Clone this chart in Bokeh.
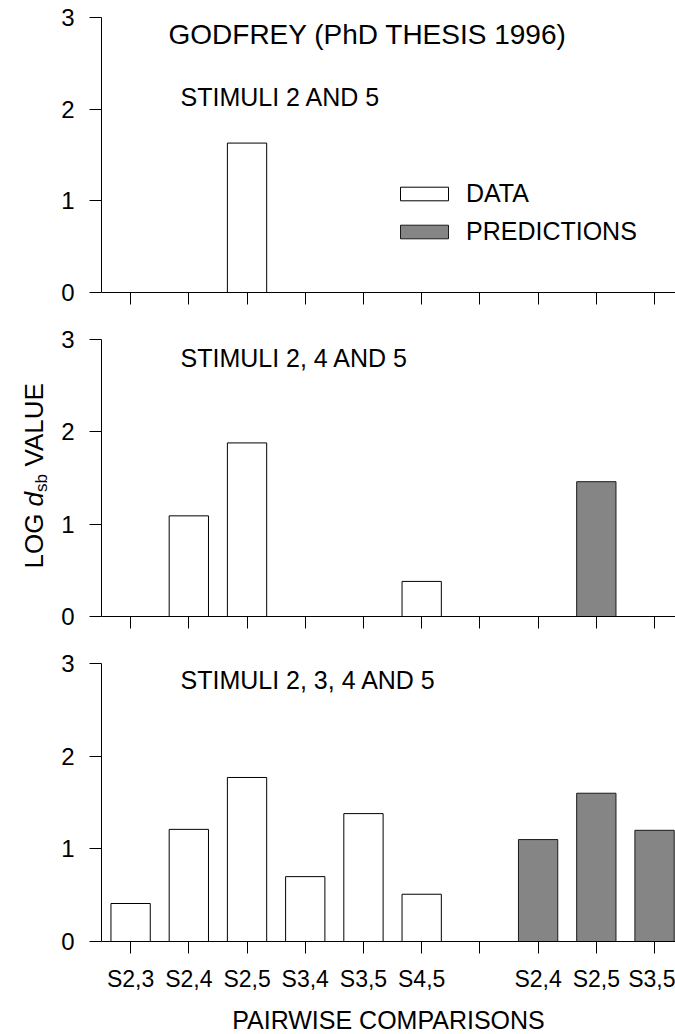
import math
from bokeh.plotting import figure
from bokeh.layouts import column, row
from bokeh.models import Range1d, FixedTicker, Label, Legend, LegendItem, ColumnDataSource
from bokeh.embed import file_html
from bokeh.resources import INLINE

nan = float("nan")

# ---- data -------------------------------------------------------------
slot_labels = ["S2,3", "S2,4", "S2,5", "S3,4", "S3,5", "S4,5", "", "S2,4", "S2,5", "S3,5"]
data_pairs = ["S2,3", "S2,4", "S2,5", "S3,4", "S3,5", "S4,5"]
pred_pairs = ["S2,4", "S2,5", "S3,5"]
data_slot = [0, 1, 2, 3, 4, 5]
pred_slot = [7, 8, 9]

panel_names = ["STIMULI 2 AND 5", "STIMULI 2, 4 AND 5", "STIMULI 2, 3, 4 AND 5"]

data_p1 = [nan, nan, 1.63, nan, nan, nan]
pred_p1 = [nan, nan, nan]
data_p2 = [nan, 1.09, 1.88, nan, nan, 0.38]
pred_p2 = [nan, 1.46, nan]
data_p3 = [0.41, 1.21, 1.77, 0.70, 1.38, 0.51]
pred_p3 = [1.10, 1.60, 1.20]

y_ticks = [0, 1, 2, 3]

# ---- layout constants ---------------------------------------------------
FONT = "Liberation Sans"
STRIP_W = 56            # narrow strip holding the y-axis title
LEFT = 101              # x of the y axis spine on the page
FRAME_W = 574
X0, X1 = -0.5, 9.36
PX = FRAME_W / (X1 - X0)
PRED_FILL = "#858585"
PAGE_H = 1034


def xd(px):
    return X0 + (px - LEFT) / PX


def make_panel(dvals, pvals, frame_h, top_b, bot_b, show_labels):
    p = figure(frame_width=FRAME_W, frame_height=frame_h,
               x_range=Range1d(X0, X1), y_range=Range1d(0, 3),
               min_border_left=LEFT - STRIP_W, min_border_right=0,
               min_border_top=top_b, min_border_bottom=bot_b,
               output_backend="svg", toolbar_location=None,
               background_fill_color="white", border_fill_color="white")
    p.outline_line_color = None
    p.xgrid.visible = False
    p.ygrid.visible = False

    dsrc = ColumnDataSource(dict(x=data_slot, top=dvals, name=data_pairs))
    psrc = ColumnDataSource(dict(x=pred_slot, top=pvals, name=pred_pairs))
    rd = p.vbar(x="x", top="top", bottom=0, width=0.675, source=dsrc,
                fill_color="white", line_color="black", line_width=1)
    rp = p.vbar(x="x", top="top", bottom=0, width=0.675, source=psrc,
                fill_color=PRED_FILL, line_color="#1a1a1a", line_width=1)

    ya = p.yaxis[0]
    ya.ticker = FixedTicker(ticks=y_ticks)
    ya.major_tick_in = 0
    ya.major_tick_out = 12
    ya.minor_tick_out = 0
    ya.minor_tick_in = 0
    ya.axis_line_color = "black"
    ya.major_tick_line_color = "black"
    ya.major_label_text_font = FONT
    ya.major_label_text_font_size = "24px"
    ya.major_label_text_color = "black"
    ya.major_label_standoff = 15

    xa = p.xaxis[0]
    xa.ticker = FixedTicker(ticks=list(range(len(slot_labels))))
    xa.major_tick_in = 0
    xa.major_tick_out = 12
    xa.minor_tick_out = 0
    xa.minor_tick_in = 0
    xa.axis_line_color = "black"
    xa.major_tick_line_color = "black"
    xa.major_label_text_font = FONT
    xa.major_label_text_font_size = "23px"
    xa.major_label_text_color = "black"
    if show_labels:
        xa.major_label_overrides = {i: s for i, s in enumerate(slot_labels)}
        xa.major_label_standoff = 12
        xa.axis_label = "PAIRWISE COMPARISONS"
        xa.axis_label_text_font = FONT
        xa.axis_label_text_font_size = "25px"
        xa.axis_label_text_font_style = "normal"
        xa.axis_label_text_color = "black"
        xa.axis_label_standoff = 11
    else:
        xa.major_label_overrides = {i: "" for i in range(len(slot_labels))}
        xa.major_label_text_font_size = "1px"
        xa.major_label_standoff = 0
    return p, rd, rp


p1, rd1, rp1 = make_panel(data_p1, pred_p1, 275, 17, 30, False)
p2, rd2, rp2 = make_panel(data_p2, pred_p2, 277, 17, 30, False)
p3, rd3, rp3 = make_panel(data_p3, pred_p3, 278, 17, 93, True)

# panel 1 title
p1.add_layout(Label(x=xd(168), y=2.82, text="GODFREY (PhD THESIS 1996)",
                    text_align="left", text_baseline="middle",
                    text_font=FONT, text_font_size="28px", text_color="black"))

# panel subtitles
for p, yy, name in [(p1, 2.13, panel_names[0]), (p2, 2.80, panel_names[1]),
                    (p3, 2.82, panel_names[2])]:
    p.add_layout(Label(x=xd(180), y=yy, text=name, text_align="left",
                       text_baseline="middle", text_font=FONT,
                       text_font_size="25px", text_color="black"))

# legend in panel 1
leg = Legend(items=[LegendItem(label="DATA", renderers=[rd1]),
                    LegendItem(label="PREDICTIONS", renderers=[rp1])],
             location=(293, 46), orientation="vertical",
             glyph_width=60, glyph_height=17, label_standoff=12,
             label_height=28, spacing=9, padding=0, margin=0,
             border_line_color=None, background_fill_alpha=0,
             label_text_font=FONT, label_text_font_size="25px",
             label_text_color="black")
p1.add_layout(leg, "center")

# narrow strip on the left carrying the y-axis title
strip = figure(frame_width=STRIP_W, frame_height=PAGE_H,
               x_range=Range1d(0, STRIP_W), y_range=Range1d(0, PAGE_H),
               min_border_left=0, min_border_right=0, min_border_top=0,
               min_border_bottom=0, output_backend="svg", toolbar_location=None,
               background_fill_color="white", border_fill_color="white")
strip.outline_line_color = None
strip.axis.visible = False
strip.grid.visible = False

ang = math.pi / 2
# (text, start y on page, baseline x, size, style)
pieces = [("LOG", 568, 33, "26px", "normal"),
          ("d", 568 - 62.1, 33, "26px", "italic"),
          ("sb", 568 - 62.1 - 14.5, 41, "17px", "normal"),
          ("VALUE", 568 - 62.1 - 14.5 - 18.0 - 7.5, 33, "26px", "normal")]
for txt, py, sx, fs, style in pieces:
    strip.add_layout(Label(x=sx, y=PAGE_H - py, text=txt, angle=ang,
                           text_align="left", text_baseline="alphabetic",
                           text_font=FONT, text_font_size=fs,
                           text_font_style=style, text_color="black"))

layout = row(strip, column(p1, p2, p3, spacing=0), spacing=0)
open("out.html", "w").write(file_html(layout, INLINE))
